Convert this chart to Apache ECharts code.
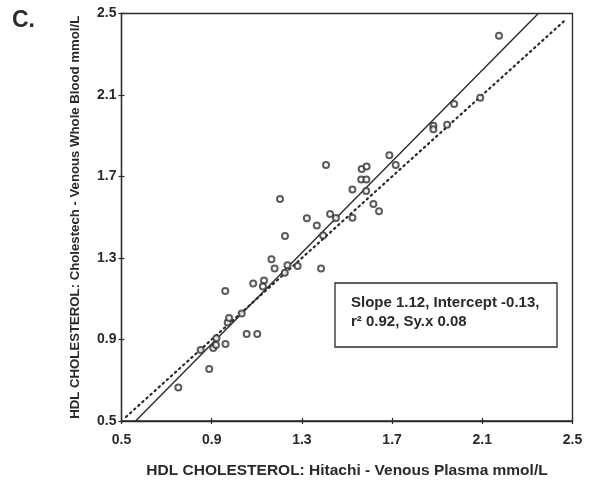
<!DOCTYPE html>
<html>
<head>
<meta charset="utf-8">
<script src="https://cdn.jsdelivr.net/npm/echarts@6/dist/echarts.min.js"></script>
<style>
html,body{margin:0;padding:0;background:#fff;}
#chart{width:592px;height:486px;}
</style>
</head>
<body>
<div id="chart"></div>
<script>
// Data
const plasma = [0.752,0.889,0.851,0.907,0.919,0.961,0.921,0.971,0.977,0.960,1.033,1.055,1.102,1.084,1.132,1.127,1.165,1.179,1.224,1.236,1.281,1.203,1.225,1.322,1.366,1.385,1.394,1.425,1.451,1.407,1.524,1.524,1.565,1.587,1.563,1.586,1.585,1.617,1.642,1.688,1.716,1.883,1.883,1.944,1.975,2.091,2.174];
const wholeBlood = [0.665,0.755,0.848,0.858,0.873,0.878,0.906,0.983,1.006,1.138,1.028,0.927,0.927,1.175,1.190,1.160,1.294,1.248,1.228,1.265,1.261,1.589,1.408,1.495,1.459,1.248,1.410,1.516,1.496,1.756,1.636,1.497,1.737,1.749,1.685,1.685,1.629,1.565,1.530,1.804,1.756,1.949,1.932,1.954,2.056,2.087,2.391];
const axisTicks = [0.5, 0.9, 1.3, 1.7, 2.1, 2.5];
const slope = 1.12, intercept = -0.13;
const identityLine = [[0.52, 0.52], [2.47, 2.47]];
const annotationLines = ['Slope 1.12, Intercept -0.13,', 'r\u00B2 0.92, Sy.x 0.08'];
const panelLabel = 'C.';
const xTitle = 'HDL CHOLESTEROL: Hitachi - Venous Plasma mmol/L';
const yTitle = 'HDL CHOLESTEROL: Cholestech - Venous Whole Blood mmol/L';

const axMin = axisTicks[0], axMax = axisTicks[axisTicks.length - 1];
const step = axisTicks[1] - axisTicks[0];
const regLine = [[(axMin - intercept) / slope, axMin], [(axMax - intercept) / slope, axMax]];

const ink = '#2a2a2a';
const font = 'Liberation Sans, Arial, sans-serif';

function valueAxis(name, isX, nameGap) {
  return {
    type: 'value', min: axMin, max: axMax, interval: step,
    name: name, nameLocation: 'middle', nameGap: nameGap,
    nameTextStyle: {fontFamily: font, fontWeight: 'bold', fontSize: isX ? 15.5 : 13.2, color: ink},
    axisLine: {show: true, onZero: false, lineStyle: {color: ink, width: 1.3}},
    axisTick: {show: true, inside: false, length: 3, lineStyle: {color: ink, width: 1.2}},
    axisLabel: {fontFamily: font, fontWeight: 'bold', fontSize: 14, color: ink, margin: isX ? 12 : 5,
      formatter: v => v.toFixed(1)},
    splitLine: {show: false}
  };
}
function innerAxis() {
  return {
    type: 'value', min: axMin, max: axMax, interval: step,
    axisLine: {show: false}, axisLabel: {show: false}, splitLine: {show: false},
    axisTick: {show: true, inside: true, length: 3, lineStyle: {color: ink, width: 1.2}}
  };
}

const chart = echarts.init(document.getElementById('chart'), null, {renderer: 'canvas'});
chart.setOption({
  animation: false,
  backgroundColor: '#fff',
  grid: {left: 121.5, right: 19.5, top: 13.5, bottom: 65, show: true, borderColor: ink, borderWidth: 1.3, backgroundColor: 'transparent'},
  xAxis: [Object.assign(valueAxis(xTitle, true, 42), {position: 'bottom'}), Object.assign(innerAxis(), {position: 'bottom', offset: 0})],
  yAxis: [Object.assign(valueAxis(yTitle, false, 40), {position: 'left'}), Object.assign(innerAxis(), {position: 'left', offset: 0})],
  series: [
    {type: 'line', data: identityLine, symbol: 'none', silent: true,
      lineStyle: {color: ink, width: 2.2, type: [1.5, 4], cap: 'round'}},
    {type: 'line', data: regLine, symbol: 'none', silent: true,
      lineStyle: {color: ink, width: 1.4}},
    {type: 'scatter', data: plasma.map((x, i) => [x, wholeBlood[i]]),
      symbol: 'emptyCircle', symbolSize: 6, z: 5,
      itemStyle: {color: '#333', borderColor: '#333', borderWidth: 1.2}}
  ],
  graphic: [
    {type: 'text', left: 12, top: 9, style: {text: panelLabel, font: 'bold 23px ' + font, fill: ink}},
    {type: 'rect', shape: {x: 335, y: 283, width: 222, height: 64}, style: {fill: '#fff', stroke: ink, lineWidth: 1.3}, z: 10},
    {type: 'text', x: 351, y: 293, z: 11, style: {text: annotationLines.join('\n'), font: 'bold 15px ' + font, fill: ink, lineHeight: 19}}
  ]
});
</script>
</body>
</html>
